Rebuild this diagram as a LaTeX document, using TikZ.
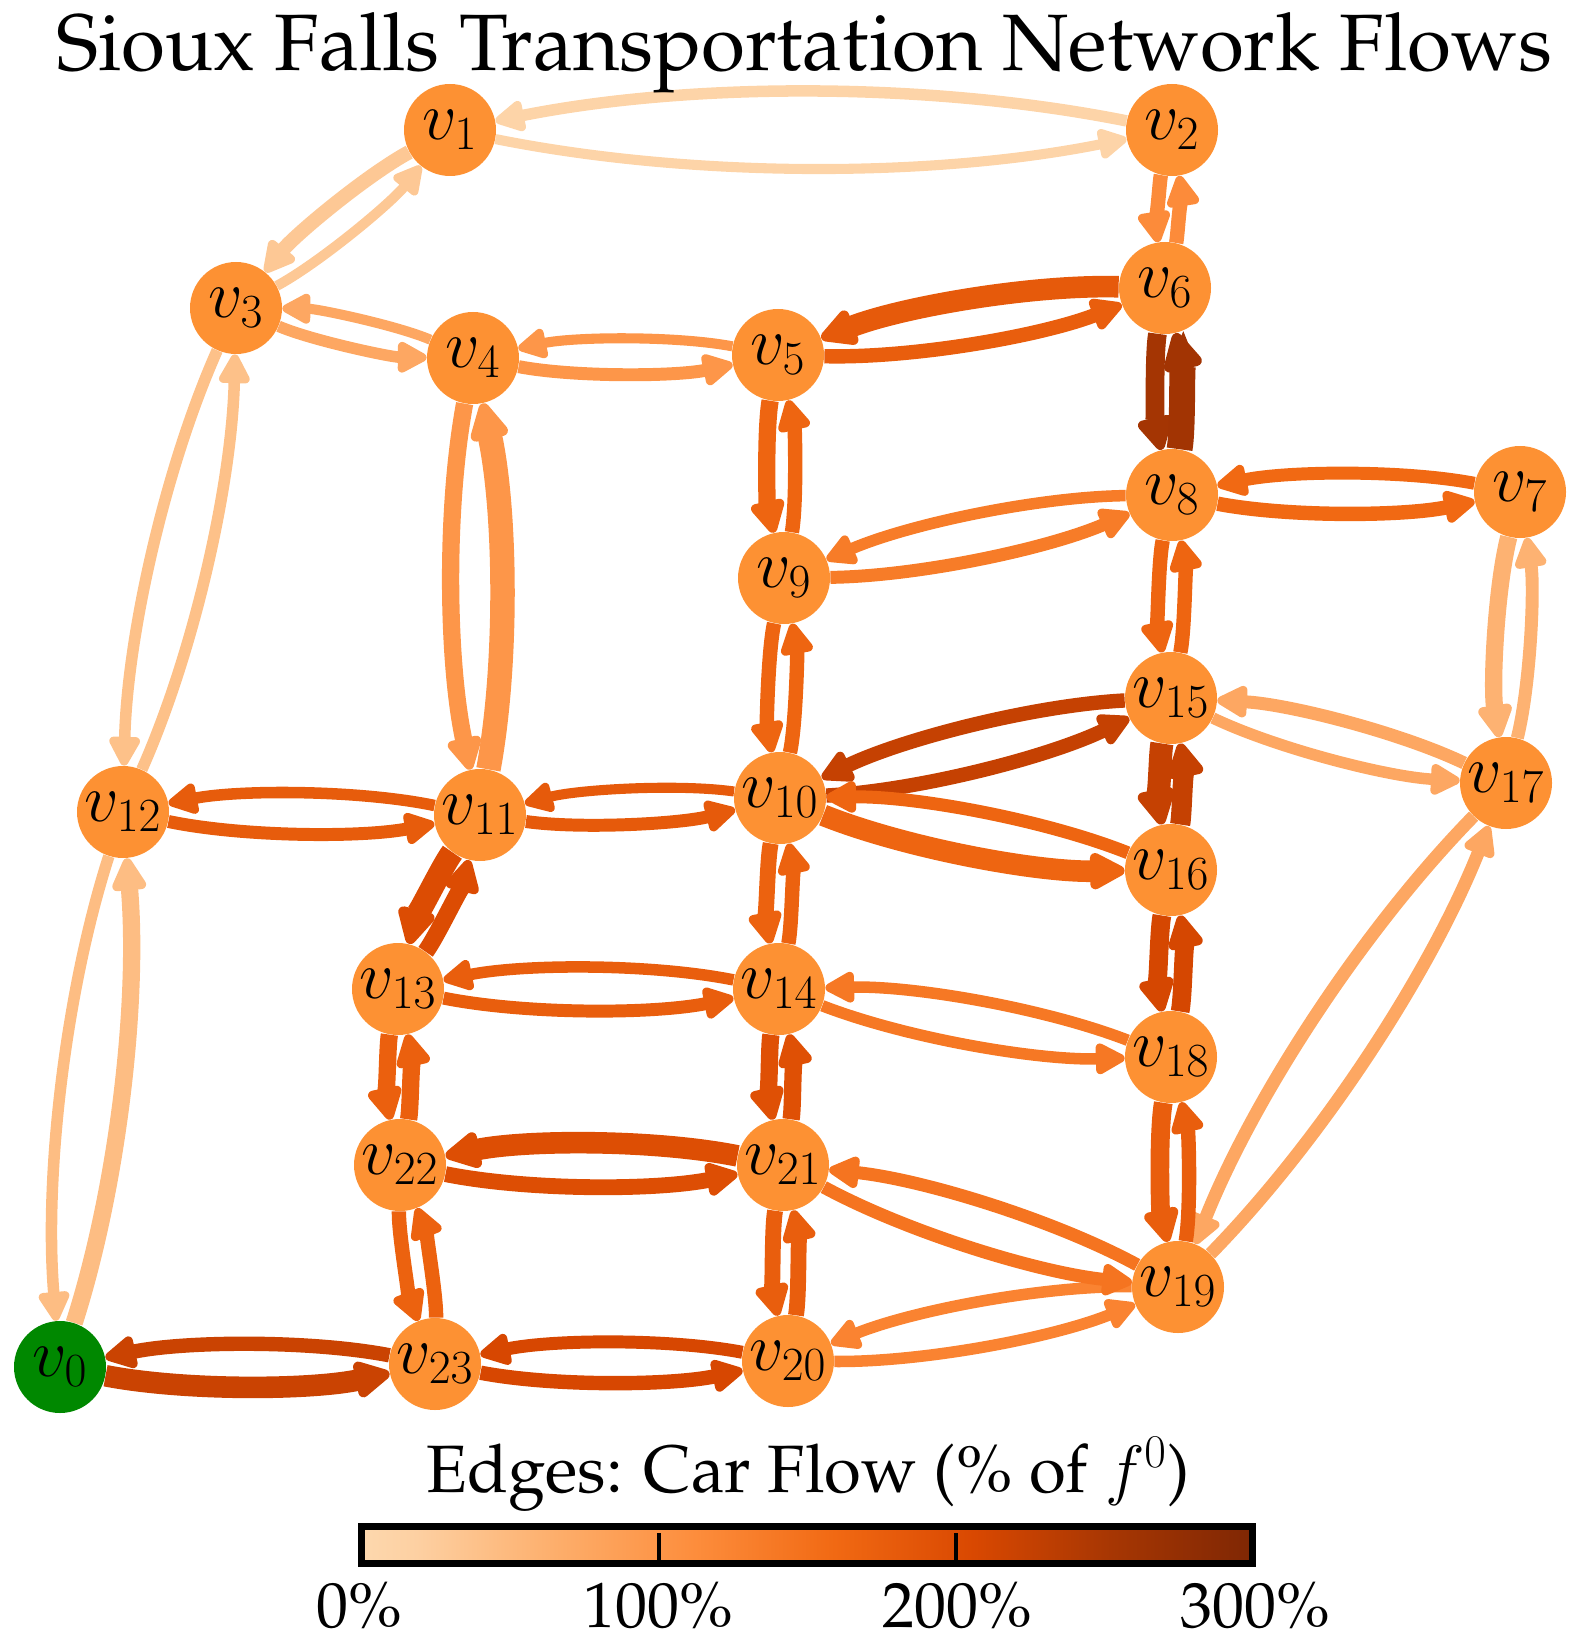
\RequirePackage{fix-cm}
\documentclass[tikz,border=0pt]{standalone}
\usepackage[T1]{fontenc}
\renewcommand{\rmdefault}{ppl}
\usetikzlibrary{arrows.meta,calc}
\definecolor{nodeor}{HTML}{FD9133}
\definecolor{srcgreen}{HTML}{008800}
\definecolor{o0}{HTML}{FDD8AE}
\definecolor{o1}{HTML}{FDD0A2}
\definecolor{o2}{HTML}{FDAE6B}
\definecolor{o3}{HTML}{FD8D3C}
\definecolor{o4}{HTML}{F16913}
\definecolor{o5}{HTML}{D94801}
\definecolor{o6}{HTML}{A63603}
\definecolor{o7}{HTML}{7F2704}
\pgfdeclarehorizontalshading{oranges}{100bp}{color(0bp)=(o0); color(25bp)=(o0); color(28.125bp)=(o1); color(35.9375bp)=(o2); color(43.75bp)=(o3); color(51.5625bp)=(o4); color(59.375bp)=(o5); color(67.1875bp)=(o6); color(75bp)=(o7); color(100bp)=(o7)}
\newcommand\mixseg[4]{\pgfmathsetmacro\fx{100*(#4-\fp)/(#4-#3)}\colorlet{ec}{#1!\fx!#2}}
\newcommand\setflow[1]{%
  \pgfmathsetmacro\fp{#1}%
  \ifdim\fp pt<18.75pt \mixseg{o0}{o1}{0}{18.75}%
  \else\ifdim\fp pt<65.625pt \mixseg{o1}{o2}{18.75}{65.625}%
  \else\ifdim\fp pt<112.5pt \mixseg{o2}{o3}{65.625}{112.5}%
  \else\ifdim\fp pt<159.375pt \mixseg{o3}{o4}{112.5}{159.375}%
  \else\ifdim\fp pt<206.25pt \mixseg{o4}{o5}{159.375}{206.25}%
  \else\ifdim\fp pt<253.125pt \mixseg{o5}{o6}{206.25}{253.125}%
  \else \mixseg{o6}{o7}{253.125}{300}%
  \fi\fi\fi\fi\fi\fi}
\pgfdeclarelayer{bg}
\pgfsetlayers{bg,main}
\tikzset{
  fl/.style 2 args={/utils/exec={\setflow{#2}}, draw=ec, line width=#1*0.72pt,
    -{Triangle[length=13pt 0.7, width=13.5pt 0.6, round]}},
  vx/.style={circle, fill=nodeor, minimum size=46pt, inner sep=0pt,
    font=\fontsize{34}{40}\selectfont},
  src/.style={vx, fill=srcgreen},
  lbl/.style={anchor=base, font=\fontsize{32}{38}\selectfont},
  tick/.style={line width=2pt, black}
}
\newcommand\flowedge[4]{%
  \coordinate (mm) at ($(#1)!0.5!(#2)$);
  \coordinate (qq) at ($(mm)!0.2!-90:(#2)$);
  \draw[fl={#3}{#4}] (#1) .. controls ($(#1)!0.6667!(qq)$) and ($(#2)!0.6667!(qq)$) .. (#2);
}
\newcommand\vl[1]{\makebox[0pt][c]{$v_{#1}$}}
\begin{document}
\begin{tikzpicture}[x=0.5pt,y=0.5pt]
\useasboundingbox (0,0) rectangle (1582,-1652);
% nodes
\node[src] (v0) at (60,-1367) {\vl{0}};
\node[vx] (v1) at (450,-130) {\vl{1}};
\node[vx] (v2) at (1172,-130) {\vl{2}};
\node[vx] (v3) at (236,-308) {\vl{3}};
\node[vx] (v4) at (473,-358) {\vl{4}};
\node[vx] (v5) at (778,-355) {\vl{5}};
\node[vx] (v6) at (1165,-288) {\vl{6}};
\node[vx] (v7) at (1520,-492) {\vl{7}};
\node[vx] (v8) at (1172,-495) {\vl{8}};
\node[vx] (v9) at (784,-578) {\vl{9}};
\node[vx] (v10) at (780,-798) {\vl{10}};
\node[vx] (v11) at (480,-815) {\vl{11}};
\node[vx] (v12) at (123,-812) {\vl{12}};
\node[vx] (v13) at (398,-989) {\vl{13}};
\node[vx] (v14) at (779,-989) {\vl{14}};
\node[vx] (v15) at (1171,-698) {\vl{15}};
\node[vx] (v16) at (1171,-870) {\vl{16}};
\node[vx] (v17) at (1506,-783) {\vl{17}};
\node[vx] (v18) at (1171,-1057) {\vl{18}};
\node[vx] (v19) at (1178,-1287) {\vl{19}};
\node[vx] (v20) at (788,-1361) {\vl{20}};
\node[vx] (v21) at (783,-1165) {\vl{21}};
\node[vx] (v22) at (400,-1165) {\vl{22}};
\node[vx] (v23) at (435,-1364) {\vl{23}};
% edges
\begin{pgfonlayer}{bg}
\flowedge{v0}{v12}{12}{45}  \flowedge{v12}{v0}{8}{45}
\flowedge{v0}{v23}{15}{220} \flowedge{v23}{v0}{10}{220}
\flowedge{v1}{v2}{7}{10}    \flowedge{v2}{v1}{8}{10}
\flowedge{v1}{v3}{10}{30}   \flowedge{v3}{v1}{7}{30}
\flowedge{v2}{v6}{10}{115}  \flowedge{v6}{v2}{10}{115}
\flowedge{v3}{v4}{8}{75}    \flowedge{v4}{v3}{7}{75}
\flowedge{v3}{v12}{8}{40}   \flowedge{v12}{v3}{8}{40}
\flowedge{v4}{v5}{9}{100}   \flowedge{v5}{v4}{7}{100}
\flowedge{v4}{v11}{12}{100} \flowedge{v11}{v4}{17}{100}
\flowedge{v5}{v6}{10}{175}  \flowedge{v6}{v5}{15}{180}
\flowedge{v5}{v9}{12}{165}  \flowedge{v9}{v5}{10}{165}
\flowedge{v6}{v8}{13}{255}  \flowedge{v8}{v6}{18}{258}
\flowedge{v8}{v7}{10}{160}  \flowedge{v7}{v8}{9}{160}
\flowedge{v7}{v17}{12}{60}  \flowedge{v17}{v7}{9}{60}
\flowedge{v8}{v9}{8}{135}   \flowedge{v9}{v8}{9}{135}
\flowedge{v8}{v15}{10}{165} \flowedge{v15}{v8}{10}{165}
\flowedge{v9}{v10}{10}{165} \flowedge{v10}{v9}{10}{165}
\flowedge{v10}{v11}{7}{180} \flowedge{v11}{v10}{9}{180}
\flowedge{v10}{v15}{10}{225} \flowedge{v15}{v10}{10}{225}
\flowedge{v10}{v16}{15}{165} \flowedge{v16}{v10}{9}{165}
\flowedge{v10}{v14}{11}{170} \flowedge{v14}{v10}{10}{170}
\flowedge{v11}{v12}{8}{178} \flowedge{v12}{v11}{9}{178}
\flowedge{v11}{v13}{16}{200} \flowedge{v13}{v11}{12}{200}
\flowedge{v13}{v14}{9}{175} \flowedge{v14}{v13}{8}{175}
\flowedge{v13}{v22}{12}{172} \flowedge{v22}{v13}{12}{172}
\flowedge{v14}{v18}{8}{140} \flowedge{v18}{v14}{8}{140}
\flowedge{v14}{v21}{12}{195} \flowedge{v21}{v14}{12}{195}
\flowedge{v15}{v16}{16}{225} \flowedge{v16}{v15}{14}{225}
\flowedge{v15}{v17}{8}{75}  \flowedge{v17}{v15}{9}{75}
\flowedge{v16}{v18}{13}{210} \flowedge{v18}{v16}{13}{210}
\flowedge{v17}{v19}{9}{75}  \flowedge{v19}{v17}{9}{75}
\flowedge{v18}{v19}{13}{175} \flowedge{v19}{v18}{10}{175}
\flowedge{v19}{v20}{8}{125} \flowedge{v20}{v19}{8}{125}
\flowedge{v19}{v21}{9}{145} \flowedge{v21}{v19}{9}{145}
\flowedge{v20}{v21}{11}{175} \flowedge{v21}{v20}{11}{175}
\flowedge{v20}{v23}{9}{208} \flowedge{v23}{v20}{10}{208}
\flowedge{v21}{v22}{15}{198} \flowedge{v22}{v21}{11}{198}
\flowedge{v22}{v23}{10}{170} \flowedge{v23}{v22}{10}{170}
\end{pgfonlayer}
% title
\node[anchor=base, font=\fontsize{40}{48}\selectfont] (title) at (804,-71) {Sioux Falls Transportation Network Flows};
% colorbar
\node[lbl, font=\fontsize{33.5}{40}\selectfont] (cblabel) at (808,-1492) {Edges: Car Flow (\% of $f^0$)};
\shade[shading=oranges] (361,-1526) rectangle (1252,-1563);
\draw[line width=3.5pt] (361,-1526) rectangle (1252,-1563);
\draw[tick] (659,-1533) -- (659,-1560);
\draw[tick] (956,-1533) -- (956,-1560);
\node[lbl] (t0) at (359,-1627) {0\%};
\node[lbl] (t1) at (658,-1627) {100\%};
\node[lbl] (t2) at (957,-1627) {200\%};
\node[lbl] (t3) at (1255,-1627) {300\%};
\end{tikzpicture}
\end{document}
